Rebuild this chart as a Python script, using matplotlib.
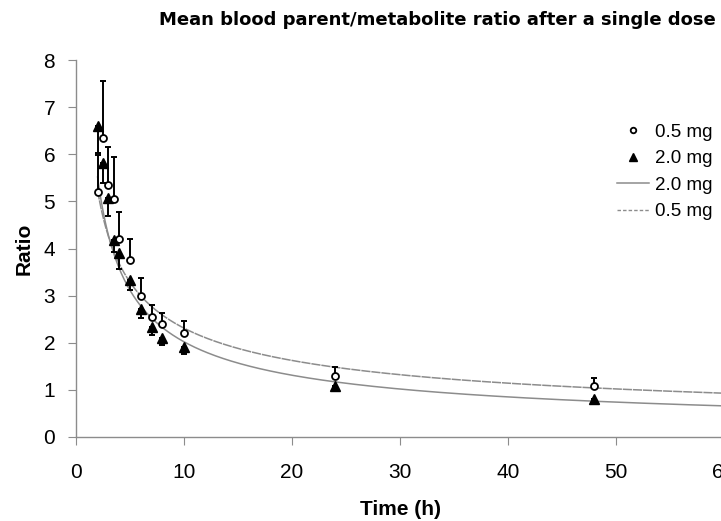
import numpy as np
import matplotlib
matplotlib.use("Agg")
import matplotlib.pyplot as plt

plt.rcParams["font.family"] = ["Liberation Sans", "DejaVu Sans"]

# sampling times (h)
time_h = [2, 2.5, 3, 3.5, 4, 5, 6, 7, 8, 10, 24, 48]

# 0.5 mg: mean ratio and upper error
ratio_05 = [5.2, 6.35, 5.35, 5.05, 4.2, 3.75, 3.0, 2.55, 2.4, 2.2, 1.3, 1.08]
err_05 = [0.79, 1.2, 0.8, 0.89, 0.57, 0.45, 0.37, 0.25, 0.23, 0.26, 0.19, 0.17]

# 2.0 mg: mean ratio and lower error
ratio_20 = [6.6, 5.82, 5.07, 4.17, 3.9, 3.33, 2.72, 2.33, 2.1, 1.92, 1.08, 0.8]
err_20 = [0.58, 0.43, 0.37, 0.24, 0.33, 0.21, 0.19, 0.16, 0.15, 0.16, 0.05, 0.04]

# power trend lines  y = a * t^-b
fit_05 = (7.44, 0.508)
fit_20 = (8.5, 0.624)

xticks = [0, 10, 20, 30, 40, 50, 60]
yticks = [0, 1, 2, 3, 4, 5, 6, 7, 8]

fig = plt.figure(figsize=(7.21, 5.21), dpi=100)
ax = fig.add_axes([76 / 721, 1 - 437 / 521, 648 / 721, 377 / 521])

grey = "#8c8c8c"
t = np.linspace(2, 60, 400)
ax.plot(t, fit_05[0] * t ** -fit_05[1], color=grey, lw=1.1, dashes=(6, 0.6), zorder=1)
ax.plot(t, fit_20[0] * t ** -fit_20[1], color=grey, lw=1.1, zorder=1)

z = np.zeros(len(time_h))
ax.errorbar(time_h, ratio_05, yerr=[z, err_05], fmt="none", ecolor="black",
            elinewidth=1.4, capsize=2.5, capthick=1.4, zorder=2)
ax.errorbar(time_h, ratio_20, yerr=[err_20, z], fmt="none", ecolor="black",
            elinewidth=1.4, capsize=2.5, capthick=1.4, zorder=2)
h1, = ax.plot(time_h, ratio_05, "o", ms=5, mfc="white", mec="black", mew=1.3,
              ls="none", zorder=4)
h2, = ax.plot(time_h, ratio_20, "^", ms=6.5, mfc="black", mec="black",
              ls="none", zorder=3)

l1 = plt.Line2D([], [], color=grey, lw=1.1)
l2 = plt.Line2D([], [], color=grey, lw=1.0, ls=(0, (2.5, 1.5)))
ax.legend([h1, h2, l1, l2], ["0.5 mg", "2.0 mg", "2.0 mg", "0.5 mg"],
          loc="upper left", bbox_to_anchor=(0.824, 0.851), frameon=False,
          fontsize=13.5, handlelength=1.7, handletextpad=0.32,
          labelspacing=0.5, borderaxespad=0, markerscale=0.8)

ax.set_xlim(0, 60)
ax.set_ylim(0, 8)
ax.set_xticks(xticks)
ax.set_yticks(yticks)
for s in ["top", "right"]:
    ax.spines[s].set_visible(False)
for s in ["left", "bottom"]:
    ax.spines[s].set_color(grey)
    ax.spines[s].set_linewidth(1.0)
ax.tick_params(axis="both", direction="out", color=grey, length=6,
               labelsize=15, pad=9)
ax.tick_params(axis="x", pad=13)

ax.set_xlabel("Time (h)", fontsize=15, fontweight="bold", labelpad=13)
ax.set_ylabel("Ratio", fontsize=15, fontweight="bold", labelpad=7)

fig.text(159 / 721, 1 - 20 / 521, "Mean blood parent/metabolite ratio after a single dose",
         ha="left", va="center", fontsize=13, fontweight="bold",
         family=["DejaVu Sans"])

fig.savefig("out.png", dpi=100)
